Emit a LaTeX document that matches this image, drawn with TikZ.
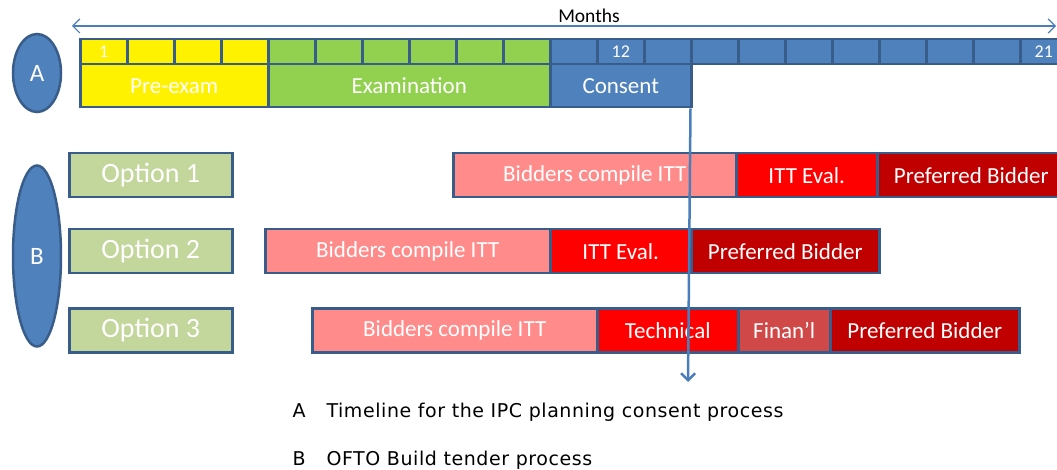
\documentclass[tikz,border=0pt]{standalone}
\usepackage{fontspec}
\setmainfont{Carlito}
\newfontfamily\legendfont[LetterSpace=3]{DejaVu Sans}
\usetikzlibrary{arrows.meta,shapes.geometric}

\definecolor{bordc}{HTML}{385D8A}
\definecolor{blueA}{HTML}{4F81BD}
\definecolor{greenA}{HTML}{92D050}
\definecolor{optgreen}{HTML}{C3D69B}
\definecolor{pinkB}{HTML}{FF8B8B}
\definecolor{redB}{HTML}{FF0000}
\definecolor{darkredB}{HTML}{C00000}
\definecolor{finB}{HTML}{D04848}
\definecolor{arrowc}{HTML}{4A7EBB}

\tikzset{
  cell/.style={draw=bordc, line width=2.5pt, minimum width=47pt, minimum height=25pt,
    anchor=north west, inner sep=0pt},
  bar/.style={draw=bordc, line width=2.5pt, minimum height=44pt, anchor=north west,
    inner sep=0pt, text=white, font=\fontsize{23}{23}\selectfont},
  optbox/.style={bar, fill=optgreen, minimum width=163pt, font=\fontsize{28}{28}\selectfont},
  lettr/.style={ellipse, draw=bordc, line width=2.5pt, fill=blueA, inner sep=0pt,
    text=white, font=\fontsize{25}{25}\selectfont},
  monthnum/.style={text=white, font=\fontsize{18}{18}\selectfont},
  keytext/.style={anchor=base west, font=\legendfont\fontsize{19}{19}\selectfont}
}

\begin{document}
\begin{tikzpicture}[x=1pt,y=-1pt]
    \useasboundingbox (0,0) rectangle (1057,470);
    \clip (0,0) rectangle (1057,470);

    % months axis
    \coordinate (mleft) at (72,26);
    \coordinate (mright) at (1056,26);
    \draw[arrowc, line width=1.2pt, {Straight Barb[length=7pt,width=14pt]}-{Straight Barb[length=7pt,width=14pt]}] (mleft) -- (mright);
    \node[font=\fontsize{19.5}{19.5}\selectfont] (months) at (589,16) {Months};

    % month cells
    \foreach \i in {1,...,4}
        \node[cell, fill=yellow] (m\i) at ({79+(\i-1)*47},38) {};
    \foreach \i in {5,...,10}
        \node[cell, fill=greenA] (m\i) at ({79+(\i-1)*47},38) {};
    \foreach \i in {11,...,21}
        \node[cell, fill=blueA] (m\i) at ({79+(\i-1)*47},38) {};
    \node[monthnum] (n1) at (m1) {1};
    \node[monthnum] (n12) at (m12) {12};
    \node[monthnum] (n21) at (m21) {21};

    % timeline A
    \node[bar, fill=yellow, minimum width=188pt, minimum height=43pt] (preexam) at (79,63) {Pre-exam};
    \node[bar, fill=greenA, minimum width=282pt, minimum height=43pt] (exam) at (267,63) {Examination};
    \node[bar, fill=blueA, minimum width=141pt, minimum height=43pt] (consent) at (549,63) {Consent};
    \node[lettr, minimum width=48pt, minimum height=78pt] (A) at (37,73) {A};

    % options B
    \node[lettr, minimum width=48pt, minimum height=181pt] (B) at (37,256) {B};
    \node[optbox] (opt1) at (68,152) {Option 1};
    \node[optbox] (opt2) at (68,228) {Option 2};
    \node[optbox] (opt3) at (68,307) {Option 3};

    \node[bar, fill=pinkB, minimum width=283pt] (bid1) at (452,152) {Bidders compile ITT};
    \node[bar, fill=redB, minimum width=141pt] (eval1) at (735,152) {ITT Eval.};
    \node[bar, fill=darkredB, minimum width=188pt] (pref1) at (876,152) {Preferred Bidder};

    \node[bar, fill=pinkB, minimum width=285pt] (bid2) at (264,228) {Bidders compile ITT};
    \node[bar, fill=redB, minimum width=141pt] (eval2) at (549,228) {ITT Eval.};
    \node[bar, fill=darkredB, minimum width=188pt] (pref2) at (690,228) {Preferred Bidder};

    \node[bar, fill=pinkB, minimum width=285pt] (bid3) at (311,307) {Bidders compile ITT};
    \node[bar, fill=redB, minimum width=141pt] (tech3) at (596,307) {Technical};
    \node[bar, fill=finB, minimum width=92pt] (fin3) at (737,307) {Finan’l};
    \node[bar, fill=darkredB, minimum width=189pt] (pref3) at (829,307) {Preferred Bidder};

    % consent marker
    \coordinate (arrowend) at (688,382);
    \draw[arrowc, line width=2.5pt, -{Straight Barb[length=7pt,width=14pt]}] (consent.south east) ++(-2,0) -- (arrowend);

    % legend
    \node[keytext] (keyA) at (289,417) {A};
    \node[keytext] (txtA) at (323,417) {Timeline for the IPC planning consent process};
    \node[keytext] (keyB) at (289,465) {B};
    \node[keytext] (txtB) at (323,465) {OFTO Build tender process};
\end{tikzpicture}
\end{document}
